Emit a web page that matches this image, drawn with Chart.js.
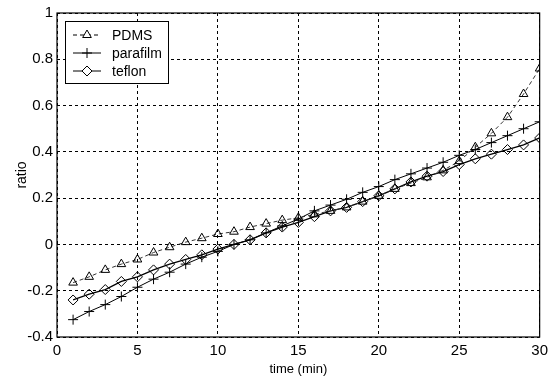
<!DOCTYPE html>
<html>
<head>
<meta charset="utf-8">
<script src="https://cdn.jsdelivr.net/npm/chart.js@4/dist/chart.umd.min.js"></script>
<style>
  html, body { margin: 0; padding: 0; background: #fff; }
  #wrap { width: 553px; height: 379px; }
</style>
</head>
<body>
<div id="wrap"><canvas id="myChart"></canvas></div>
<script>
// data
var minutes = [1,2,3,4,5,6,7,8,9,10,11,12,13,14,15,16,17,18,19,20,21,22,23,24,25,26,27,28,29,30];
var pdms = [-0.165,-0.14,-0.11,-0.085,-0.065,-0.035,-0.012,0.01,0.027,0.045,0.055,0.075,0.09,0.105,0.115,0.13,0.145,0.16,0.185,0.21,0.24,0.265,0.29,0.32,0.36,0.42,0.48,0.55,0.65,0.76];
var parafilm = [-0.325,-0.29,-0.26,-0.225,-0.185,-0.15,-0.12,-0.085,-0.055,-0.03,0.0,0.02,0.05,0.08,0.11,0.145,0.17,0.195,0.225,0.25,0.28,0.305,0.33,0.355,0.385,0.41,0.44,0.47,0.5,0.53];
var teflon = [-0.24,-0.215,-0.195,-0.16,-0.14,-0.11,-0.085,-0.065,-0.045,-0.02,0.0,0.02,0.05,0.075,0.095,0.12,0.145,0.16,0.185,0.21,0.24,0.27,0.295,0.315,0.345,0.37,0.39,0.41,0.43,0.46];
var seriesNames = ["PDMS","parafilm","teflon"];
var xTicks = [0,5,10,15,20,25,30];
var yTicks = [-0.4,-0.2,0,0.2,0.4,0.6,0.8,1];

var FONT = "'Liberation Sans', Arial, sans-serif";

function pts(ys){
  return minutes.map(function(m, i){ return {x: m, y: ys[i]}; });
}

// box round the plot + legend inside the top-left corner
var frameAndLegend = {
  id: 'frameAndLegend',
  afterDraw: function(chart){
    var c = chart.ctx, a = chart.chartArea;
    c.save();
    c.strokeStyle = '#000';
    c.lineWidth = 1.2;
    c.setLineDash([]);
    c.strokeRect(a.left, a.top, a.right - a.left, a.bottom - a.top);

    var bx = 65, by = 21, bw = 103, bh = 62;
    c.fillStyle = '#fff';
    c.fillRect(bx, by, bw, bh);
    c.lineWidth = 1;
    c.strokeRect(bx + 0.5, by + 0.5, bw, bh);
    c.font = '14px ' + FONT;
    c.textBaseline = 'middle';
    chart.data.datasets.forEach(function(ds, i){
      var yy = by + 14 + i * 18;
      c.strokeStyle = '#000';
      c.lineWidth = 1;
      c.setLineDash(ds.borderDash || []);
      c.beginPath();
      c.moveTo(73, yy); c.lineTo(101, yy);
      c.stroke();
      c.setLineDash([]);
      c.fillStyle = '#fff';
      Chart.helpers.drawPoint(c, {pointStyle: ds.pointStyle, radius: ds.pointRadius, borderWidth: 1}, 87, yy);
      c.fillStyle = '#000';
      c.fillText(ds.label, 112, yy + 1);
    });
    c.restore();
  }
};

var ctx = document.getElementById('myChart').getContext('2d');
var myChart = new Chart(ctx, {
  type: 'line',
  data: {
    datasets: [
      {label: seriesNames[0], data: pts(pdms), borderColor: '#333', borderWidth: 1, borderDash: [4,3],
       pointStyle: 'triangle', pointRadius: 5, pointBorderColor: '#000', pointBackgroundColor: 'rgba(0,0,0,0)', pointBorderWidth: 1},
      {label: seriesNames[1], data: pts(parafilm), borderColor: '#000', borderWidth: 1,
       pointStyle: 'cross', pointRadius: 5, pointBorderColor: '#000', pointBackgroundColor: 'rgba(0,0,0,0)', pointBorderWidth: 1},
      {label: seriesNames[2], data: pts(teflon), borderColor: '#000', borderWidth: 1.3,
       pointStyle: 'rectRot', pointRadius: 5, pointBorderColor: '#000', pointBackgroundColor: 'rgba(0,0,0,0)', pointBorderWidth: 1}
    ]
  },
  options: {
    responsive: true,
    maintainAspectRatio: false,
    animation: false,
    layout: { padding: { top: 13, right: 13, left: 0, bottom: 0 } },
    plugins: { legend: { display: false }, tooltip: { enabled: false } },
    scales: {
      x: {
        type: 'linear', min: 0, max: 30,
        afterBuildTicks: function(s){ s.ticks = xTicks.map(function(v){ return {value: v}; }); },
        afterFit: function(s){ s.height = 42; },
        grid: { color: '#000', lineWidth: 1, drawTicks: false, tickLength: 0 },
        border: { display: false, dash: [3,3] },
        ticks: { color: '#000', font: { family: FONT, size: 15 }, padding: 5, maxRotation: 0 },
        title: { display: true, text: 'time (min)', color: '#000', font: { family: FONT, size: 13 }, padding: { top: 0, bottom: 2 } }
      },
      y: {
        min: -0.4, max: 1,
        afterBuildTicks: function(s){ s.ticks = yTicks.map(function(v){ return {value: v}; }); },
        afterFit: function(s){ s.width = 57; },
        grid: { color: '#000', lineWidth: 1, drawTicks: false, tickLength: 0 },
        border: { display: false, dash: [3,3] },
        ticks: { color: '#000', font: { family: FONT, size: 15 }, padding: 4,
          callback: function(v){ return String(Math.round(v * 10) / 10); } },
        title: { display: true, text: 'ratio', color: '#000', font: { family: FONT, size: 14 }, padding: { top: 14, bottom: 4 } }
      }
    }
  },
  plugins: [frameAndLegend]
});
</script>
</body>
</html>
